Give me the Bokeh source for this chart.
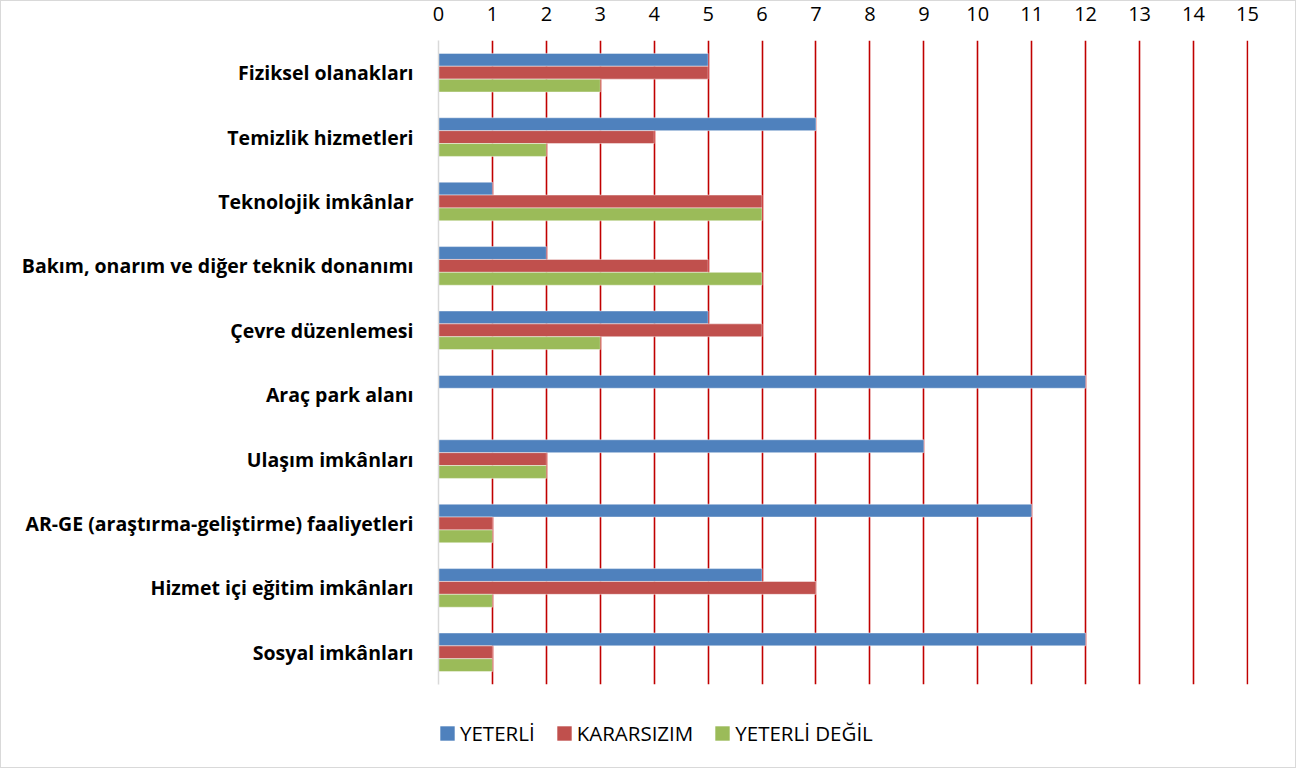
from bokeh.plotting import figure
from bokeh.layouts import column
from bokeh.models import (ColumnDataSource, FactorRange, Range1d, FixedTicker,
                          Legend, LegendItem)
from bokeh.transform import dodge
from bokeh.embed import file_html
from bokeh.resources import INLINE

categories = [
    "Fiziksel olanakları",
    "Temizlik hizmetleri",
    "Teknolojik imkânlar",
    "Bakım, onarım ve diğer teknik donanımı",
    "Çevre düzenlemesi",
    "Araç park alanı",
    "Ulaşım imkânları",
    "AR-GE (araştırma-geliştirme) faaliyetleri",
    "Hizmet içi eğitim imkânları",
    "Sosyal imkânları",
]
yeterli = [5, 7, 1, 2, 5, 12, 9, 11, 6, 12]
kararsizim = [5, 4, 6, 5, 6, 0, 2, 1, 7, 1]
yeterli_degil = [3, 2, 6, 6, 3, 0, 2, 1, 1, 1]
series_names = ["YETERLİ", "KARARSIZIM", "YETERLİ DEĞİL"]
x_ticks = list(range(0, 16))

colors = ["#4F81BD", "#C0504D", "#9BBB59"]
FONT = "Open Sans"

src = ColumnDataSource(dict(cat=categories, y1=yeterli, y2=kararsizim, y3=yeterli_degil))

p = figure(
    width=1294, height=700,
    y_range=FactorRange(factors=list(reversed(categories)), range_padding=0),
    x_range=Range1d(0, 15.02),
    x_axis_location="above",
    output_backend="svg", toolbar_location=None,
    min_border_left=437, min_border_right=47, min_border_top=39, min_border_bottom=17,
)
p.outline_line_color = None

for col, off, c in zip(["y1", "y2", "y3"], [0.2, 0.0, -0.2], colors):
    p.hbar(y=dodge("cat", off, range=p.y_range), right=col, left=0, height=0.2,
           source=src, fill_color=c, line_color="white", line_alpha=0.45, line_width=1)

# x axis (top)
xa = p.xaxis[0]
xa.ticker = FixedTicker(ticks=x_ticks)
xa.axis_line_color = None
xa.major_tick_line_color = None
xa.minor_tick_line_color = None
xa.major_label_text_font = FONT
xa.major_label_text_font_size = "20px"
xa.major_label_text_color = "#000000"
xa.major_label_standoff = 14

# y axis
ya = p.yaxis[0]
ya.axis_line_color = "#D9D9D9"
ya.axis_line_width = 1.5
ya.major_tick_line_color = None
ya.minor_tick_line_color = None
ya.major_label_text_font = FONT
ya.major_label_text_font_style = "bold"
ya.major_label_text_font_size = "19.5px"
ya.major_label_text_color = "#000000"
ya.major_label_standoff = 19

p.ygrid.grid_line_color = None
p.xgrid.ticker = FixedTicker(ticks=x_ticks[1:])
p.xgrid.grid_line_color = "#C00000"
p.xgrid.grid_line_width = 1.6

# legend strip below the chart
leg = figure(
    width=1294, height=66, x_range=Range1d(0, 1), y_range=Range1d(0, 1),
    x_axis_type=None, y_axis_type=None,
    output_backend="svg", toolbar_location=None,
    min_border=0,
)
leg.outline_line_color = None
leg.xgrid.grid_line_color = None
leg.ygrid.grid_line_color = None
leg_renderers = [leg.hbar(y=[-5], left=[0], right=[0], height=0.1,
                          fill_color=c, line_color=None)
                 for c in colors]
legend = Legend(
    items=[LegendItem(label=n, renderers=[r]) for n, r in zip(series_names, leg_renderers)],
    orientation="horizontal",
    location=(0, 20),
    label_text_font=FONT,
    label_text_font_size="20.5px",
    label_text_color="#000000",
    glyph_width=18, glyph_height=18,
    label_standoff=4, spacing=20,
    border_line_color=None, background_fill_alpha=0,
    padding=0, margin=0,
)
leg.add_layout(legend, "center")

layout = column(p, leg, spacing=0)
layout.styles = {"border": "1px solid #D9D9D9"}

open("out.html", "w").write(file_html(layout, INLINE))
